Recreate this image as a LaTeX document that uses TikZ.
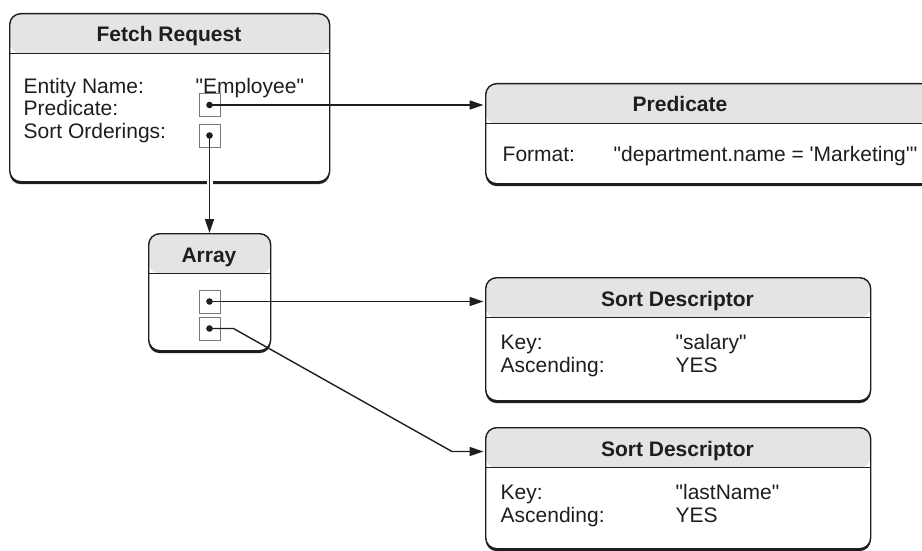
\documentclass[tikz,border=0pt]{standalone}
\usepackage{fontspec}
\setmainfont{Liberation Sans}[Ligatures=TeXOff]
\usetikzlibrary{arrows.meta,shadows}
\tikzset{>={Triangle[length=14pt,width=9pt]}}
\definecolor{hdrgray}{HTML}{E4E4E4}
\definecolor{ink}{HTML}{1E1E1E}

\begin{document}
\begin{tikzpicture}[x=1pt,y=-1pt,line width=1.4pt,draw=ink,
    recbox/.style={draw,fill=white,line width=1.4pt,rounded corners=11pt,anchor=north west,inner sep=0pt,
      drop shadow={shadow xshift=0pt,shadow yshift=-2.4pt,opacity=1,fill=ink},
      path picture={\fill[hdrgray] (path picture bounding box.north west) rectangle ([yshift=-40pt]path picture bounding box.north east);
        \draw[line width=1.1pt] ([yshift=-40pt]path picture bounding box.north west) -- ([yshift=-40pt]path picture bounding box.north east);}},
    hdr/.style={anchor=base,inner sep=0pt,text=ink,font=\fontsize{21}{23}\selectfont\bfseries},
    lbl/.style={anchor=base west,inner sep=0pt,text=ink,font=\fontsize{21}{23}\selectfont},
    ptr/.style={draw=ink!60,line width=.8pt,minimum width=21pt,minimum height=23pt,inner sep=0pt,
      path picture={\fill[ink] (path picture bounding box.center) circle (3.3pt);}}]
        \useasboundingbox (0,0) rectangle (922,551);
        % boxes
        \node[recbox,minimum width=320pt,minimum height=168pt] (fetch) at (9,13) {};
        \node[recbox,minimum width=500pt,minimum height=100pt] (pred) at (485,83) {};
        \node[recbox,minimum width=122pt,minimum height=117pt] (arr) at (148,233) {};
        \node[recbox,minimum width=385pt,minimum height=123pt] (sdsal) at (485,277) {};
        \node[recbox,minimum width=385pt,minimum height=121pt] (sdname) at (485,427) {};
        % headers
        \node[hdr] (fetchhdr) at (169,42) {Fetch Request};
        \node[hdr] (predhdr) at (680,112) {Predicate};
        \node[hdr] (arrhdr) at (209,262) {Array};
        \node[hdr] (sdsalhdr) at (677.5,306) {Sort Descriptor};
        \node[hdr] (sdnamehdr) at (677.5,456) {Sort Descriptor};
        % fields
        \node[lbl] (entity) at (23,94) {Entity Name:};
        \node[lbl] (entityval) at (195,94) {"Employee"};
        \node[lbl] (predlbl) at (23,116) {Predicate:};
        \node[lbl] (sortlbl) at (23,139) {Sort Orderings:};
        \node[lbl] (format) at (502,161) {Format:};
        \node[lbl] (formatval) at (613,161) {"department.name = 'Marketing'"};
        \node[lbl] (salkey) at (500,349) {Key:};
        \node[lbl] (salkeyval) at (675,349) {"salary"};
        \node[lbl] (salasc) at (500,372) {Ascending:};
        \node[lbl] (salascval) at (675,372) {YES};
        \node[lbl] (namekey) at (500,499) {Key:};
        \node[lbl] (namekeyval) at (675,499) {"lastName"};
        \node[lbl] (nameasc) at (500,522) {Ascending:};
        \node[lbl] (nameascval) at (675,522) {YES};
        % pointer slots
        \node[ptr] (predptr) at (209.5,105) {};
        \node[ptr] (sortptr) at (209.5,135.5) {};
        \node[ptr] (elemone) at (209.5,301.5) {};
        \node[ptr] (elemtwo) at (209.5,328.5) {};
        % connectors
        \draw[->,shorten >=1.5pt] (predptr.center) -- (predptr.center -| pred.west);
        \draw[->,preaction={draw=white,line width=6pt,-,shorten <=16pt,shorten >=12pt}] (sortptr.center) -- (sortptr.center |- arr.north);
        \draw[->,shorten >=1.5pt] (elemone.center) -- (elemone.center -| sdsal.west);
        \coordinate (bend) at (452,451.5);
        \draw[->,shorten >=1.5pt] (elemtwo.center) -- ++(24,0) -- (bend) -- (bend -| sdname.west);
\end{tikzpicture}
\end{document}
